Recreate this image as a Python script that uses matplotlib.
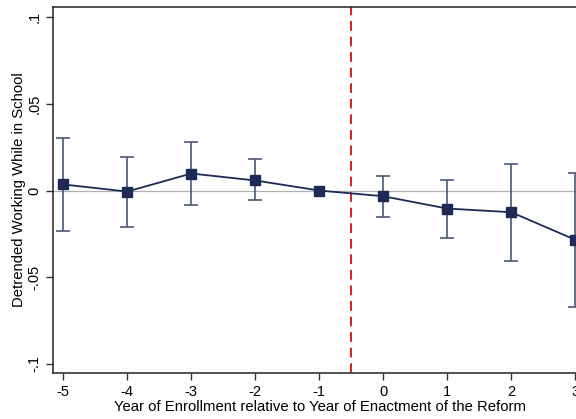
import matplotlib.pyplot as plt
import numpy as np

plt.rcParams['font.family'] = ['Liberation Sans', 'DejaVu Sans']

# event-time coefficients and 95% CI
years = [-5, -4, -3, -2, -1, 0, 1, 2, 3]
coef = [0.0035, -0.0006, 0.0098, 0.0058, 0.0, -0.0033, -0.0104, -0.0125, -0.0284]
ci_hi = [0.0300, 0.0196, 0.0277, 0.0179, 0.0, 0.0085, 0.0063, 0.0154, 0.0100]
ci_lo = [-0.0236, -0.0213, -0.0081, -0.0052, 0.0, -0.0150, -0.0271, -0.0405, -0.0672]
yticks = [-0.1, -0.05, 0, 0.05, 0.1]
ytick_labels = ['-.1', '-.05', '0', '.05', '.1']
reform_line = -0.5

fig = plt.figure(figsize=(5.76, 4.19), dpi=100)
W, H = 576, 419
x0, x1 = -5.16, 3.3
left_px, top_px, bottom_px = 53, 7, 373
width_px = (x1 - x0) * 64
ax = fig.add_axes([left_px / W, 1 - bottom_px / H, width_px / W, (bottom_px - top_px) / H])

ax.axhline(0, color='#b0b0b0', lw=0.9, zorder=1)
ax.axvline(reform_line, color='#d62020', lw=1.4, ls=(0, (5, 3)), zorder=2)

c = np.array(coef)
err = [c - np.array(ci_lo), np.array(ci_hi) - c]
mask = np.array(ci_hi) != np.array(ci_lo)
ax.errorbar(np.array(years)[mask], c[mask], yerr=[err[0][mask], err[1][mask]],
            fmt='none', ecolor='#4a5878', elinewidth=1.2, capsize=5, capthick=1.2, zorder=3)
ax.plot(years, coef, color='#1c2a55', lw=1.3, marker='s', ms=7,
        mfc='#1c2a55', mec='#1c2a55', zorder=4)

ax.set_xlim(x0, x1)
ax.set_ylim(-0.1052, 0.1058)
ax.set_xticks(years)
ax.set_xticklabels([str(y) for y in years], fontsize=10.5)
ax.set_yticks(yticks)
ax.set_yticklabels(ytick_labels, fontsize=10.5, rotation=90, va='center')
ax.tick_params(direction='out', length=5, width=1, color='#333333')

for s in ['left', 'top', 'bottom']:
    ax.spines[s].set_color('#222222')
    ax.spines[s].set_linewidth(1.1)
ax.spines['right'].set_visible(False)

ax.set_ylabel('Detrended Working While in School', fontsize=10.7)
ax.yaxis.set_label_coords(-27 / width_px, 0.5)
ax.set_xlabel('Year of Enrollment relative to Year of Enactment of the Reform',
              fontsize=10.7)
ax.xaxis.set_label_coords((319.5 - left_px) / width_px, -0.075)

fig.savefig('out.png', dpi=100)
